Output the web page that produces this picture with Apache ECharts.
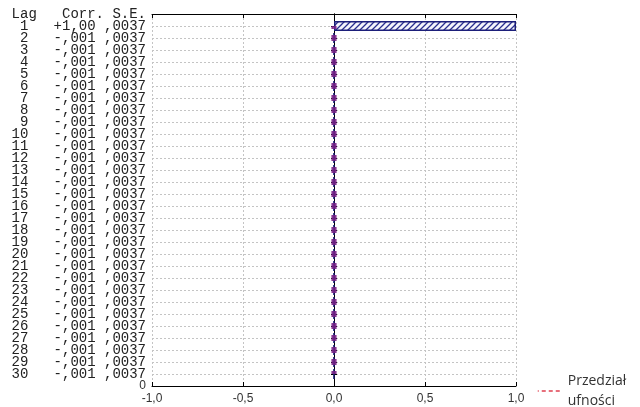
<!DOCTYPE html>
<html>
<head>
<meta charset="utf-8">
<script src="https://cdn.jsdelivr.net/npm/echarts@6/dist/echarts.min.js"></script>
<style>
html,body{margin:0;padding:0;background:#fff;}
#c{width:640px;height:407px;}
</style>
</head>
<body>
<div id="c"></div>
<script>
// ---- data ----
const lags = [1,2,3,4,5,6,7,8,9,10,11,12,13,14,15,16,17,18,19,20,21,22,23,24,25,26,27,28,29,30];
const corr = [1.00,-0.001,-0.001,-0.001,-0.001,-0.001,-0.001,-0.001,-0.001,-0.001,
              -0.001,-0.001,-0.001,-0.001,-0.001,-0.001,-0.001,-0.001,-0.001,-0.001,
              -0.001,-0.001,-0.001,-0.001,-0.001,-0.001,-0.001,-0.001,-0.001,-0.001];
const se = [0.0037,0.0037,0.0037,0.0037,0.0037,0.0037,0.0037,0.0037,0.0037,0.0037,
            0.0037,0.0037,0.0037,0.0037,0.0037,0.0037,0.0037,0.0037,0.0037,0.0037,
            0.0037,0.0037,0.0037,0.0037,0.0037,0.0037,0.0037,0.0037,0.0037,0.0037];
const confUpper = 0.0073;
const confLower = -0.0073;
const header = ['Lag','Corr.','S.E.'];
const baseLabel = '0';
const legendName = 'Przedział ufności';

// ---- helpers ----
function fmtCorr(v){
  const s = v >= 0 ? '+' : '-';
  const a = Math.abs(v);
  const t = a >= 1 ? a.toFixed(2) : a.toFixed(3).replace(/^0/, '');
  return s + t.replace('.', ',');
}
function fmtSE(v){ return v.toFixed(4).replace(/^0/, '').replace('.', ','); }
function pad(s, n){ s = String(s); while (s.length < n) s = ' ' + s; return s; }

const cats = ['__hdr'].concat(lags.map(String)).concat(['__base']);
const barData = [null].concat(corr).concat([null]);
const upData = [null].concat(lags.map(() => confUpper)).concat([null]);
const loData = [null].concat(lags.map(() => confLower)).concat([null]);

// hatch pattern
const pc = document.createElement('canvas');
pc.width = 6; pc.height = 6;
const g = pc.getContext('2d');
g.fillStyle = '#f4f4fb'; g.fillRect(0,0,6,6);
g.strokeStyle = '#2a2f8f'; g.lineWidth = 1.3;
g.beginPath();
g.moveTo(-1,7); g.lineTo(7,-1);
g.moveTo(-1,1); g.lineTo(1,-1);
g.moveTo(5,7); g.lineTo(7,5);
g.stroke();

const chart = echarts.init(document.getElementById('c'), null, {renderer:'canvas'});
const axisBlack = {show:true, lineStyle:{color:'#000', width:1}};
const dotted = {show:true, lineStyle:{color:'#c4c4c4', width:1, type:[2,2]}};
const confStyle = {color:'#7a2488', width:2.5, type:[6,6], dashOffset:3, opacity:0.9};

chart.setOption({
  backgroundColor:'#fff',
  animation:false,
  grid:{left:152, right:124, top:14, bottom:21, containLabel:false},
  legend:{
    left:532, top:366, orient:'vertical',
    itemWidth:25, itemHeight:10,
    data:[legendName],
    itemStyle:{opacity:0},
    lineStyle:{color:'#e04050', width:1.5, type:[4,3], opacity:1},
    formatter: n => n.replace(' ', '\n'),
    textStyle:{fontFamily:'Open Sans', fontSize:14, lineHeight:20, color:'#333'}
  },
  xAxis:[{
    type:'value', position:'bottom', min:-1, max:1, interval:0.5,
    axisLine:axisBlack,
    axisTick:{show:true, inside:true, length:4, lineStyle:{color:'#000'}},
    splitLine:dotted,
    axisLabel:{margin:7, fontFamily:'Liberation Sans', fontSize:12, color:'#333',
      formatter: v => v.toFixed(1).replace('.', ',')}
  },{
    type:'value', position:'top', min:-1, max:1, interval:0.5,
    axisLine:axisBlack,
    axisTick:{show:true, inside:true, length:4, lineStyle:{color:'#000'}},
    splitLine:{show:false}, axisLabel:{show:false}
  }],
  yAxis:[{
    type:'category', data:cats, inverse:true, boundaryGap:false, position:'left',
    axisLine:axisBlack,
    axisTick:{show:true, inside:true, length:3, interval:0, lineStyle:{color:'#000'}},
    splitLine:{show:true, interval:0, lineStyle:{color:'#c4c4c4', width:1, type:[2,2]}},
    axisLabel:{
      interval:0, margin:6, align:'right',
      fontFamily:'Liberation Mono', fontSize:14, color:'#222',
      formatter: (v, i) => {
        if (i === 0) return header[0] + '   ' + header[1] + ' ' + header[2];
        if (i === cats.length - 1) return '{z|' + baseLabel + '}';
        const k = i - 1;
        return pad(lags[k], 2) + '   ' + fmtCorr(corr[k]) + ' ' + fmtSE(se[k]);
      },
      rich:{ z:{fontFamily:'Liberation Sans', fontSize:12, color:'#333'} }
    }
  },{
    type:'category', data:cats, inverse:true, boundaryGap:false, position:'right',
    axisLine:axisBlack,
    axisTick:{show:true, inside:true, length:3, interval:0, lineStyle:{color:'#000'}},
    splitLine:{show:false}, axisLabel:{show:false}
  }],
  series:[{
    type:'bar', name:'Corr', xAxisIndex:0, yAxisIndex:0,
    data:barData, barWidth:10,
    itemStyle:{color:{image:pc, repeat:'repeat'}, borderColor:'#1c1f7a', borderWidth:1.5},
    z:3
  },{
    type:'line', name:legendName, xAxisIndex:0, yAxisIndex:0,
    data:upData, symbol:'none', lineStyle:confStyle,
    itemStyle:{color:'#7a2488'}, z:4
  },{
    type:'line', name:legendName, xAxisIndex:0, yAxisIndex:0,
    data:loData, symbol:'none', lineStyle:confStyle,
    itemStyle:{color:'#7a2488'}, z:4
  }]
});
</script>
</body>
</html>
